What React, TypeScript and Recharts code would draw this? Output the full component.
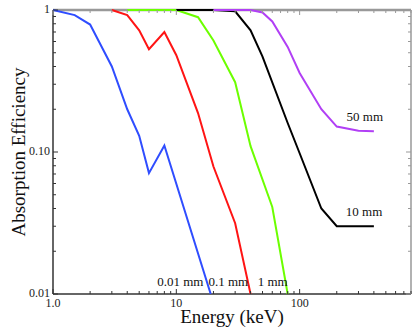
import React from 'react';
import { LineChart, Line, XAxis, YAxis, ReferenceDot } from 'recharts';

// energies (keV) and absorption efficiency for each thickness
const e001 = [1, 1.5, 2, 3, 4, 5, 6, 8, 19];
const v001 = [1, 0.92, 0.79, 0.4, 0.2, 0.13, 0.071, 0.111, 0.01];
const e01 = [3, 4, 5, 6, 8, 10, 15, 20, 30, 40];
const v01 = [1, 0.92, 0.72, 0.53, 0.7, 0.48, 0.188, 0.079, 0.0315, 0.01];
const e1 = [4, 10, 15, 20, 30, 40, 60, 80];
const v1 = [1, 1, 0.89, 0.61, 0.31, 0.11, 0.041, 0.01];
const e10 = [10, 20, 30, 40, 50, 80, 100, 150, 200, 400];
const v10 = [1, 1, 0.98, 0.72, 0.47, 0.16, 0.098, 0.04, 0.03, 0.03];
const e50 = [20, 40, 50, 60, 80, 100, 150, 200, 300, 400];
const v50 = [1, 1, 0.96, 0.83, 0.55, 0.36, 0.2, 0.151, 0.141, 0.14];

const xTicks = [1, 2, 3, 4, 5, 6, 7, 8, 9, 10, 20, 30, 40, 50, 60, 70, 80, 90, 100, 200, 300, 400, 500, 600, 700, 800];
const xTickText: Record<string, string> = { '1': '1.0', '10': '10', '100': '100' };
const yTicks = [0.01, 0.02, 0.03, 0.04, 0.05, 0.06, 0.07, 0.08, 0.09, 0.1, 0.2, 0.3, 0.4, 0.5, 0.6, 0.7, 0.8, 0.9, 1];
const yTickText: Record<string, string> = { '0.01': '0.01', '0.1': '0.10', '1': '1' };

const curveLabels = [
  { text: '0.01 mm', e: 7, v: 0.0114 },
  { text: '0.1 mm', e: 18.2, v: 0.0114 },
  { text: '1 mm', e: 45.7, v: 0.0114 },
  { text: '50 mm', e: 240, v: 0.1665 },
  { text: '10 mm', e: 237, v: 0.0354 },
];

const serif = 'Liberation Serif, Times New Roman, serif';

const toPoints = (es: number[], vs: number[]) => es.map((e, i) => ({ e, v: vs[i] }));

const series = [
  { name: '0.01 mm', data: toPoints(e001, v001), color: '#2f4dff' },
  { name: '0.1 mm', data: toPoints(e01, v01), color: '#ff1414' },
  { name: '1 mm', data: toPoints(e1, v1), color: '#6cff00' },
  { name: '10 mm', data: toPoints(e10, v10), color: '#000000' },
  { name: '50 mm', data: toPoints(e50, v50), color: '#b13ff5' },
];

const BottomTick = ({ x, y, payload }: any) => {
  const label = xTickText[String(payload.value)];
  const len = label ? 5 : 3;
  return (
    <g>
      <line x1={x} x2={x} y1={y} y2={y - len} stroke="#333" />
      {label && (
        <text x={x} y={y + 13} textAnchor="middle" fontSize={12} fontFamily={serif} fill="#222">
          {label}
        </text>
      )}
    </g>
  );
};

const TopTick = ({ x, y, payload }: any) => {
  const len = xTickText[String(payload.value)] ? 5 : 3;
  return <line x1={x} x2={x} y1={y} y2={y + len} stroke="#999" />;
};

const LeftTick = ({ x, y, payload }: any) => {
  const label = yTickText[String(payload.value)];
  const len = label ? 5 : 3;
  return (
    <g>
      <line x1={x} x2={x + len} y1={y} y2={y} stroke="#333" />
      {label && (
        <text x={x - 3} y={y + 3} textAnchor="end" fontSize={12} fontFamily={serif} fill="#222">
          {label}
        </text>
      )}
    </g>
  );
};

const RightTick = ({ x, y, payload }: any) => {
  const len = yTickText[String(payload.value)] ? 5 : 3;
  return <line x1={x} x2={x - len} y1={y} y2={y} stroke="#999" />;
};

const XTitle = ({ viewBox }: any) => (
  <text x={viewBox.x + viewBox.width / 2} y={323} textAnchor="middle" fontSize={19} fontFamily={serif} fill="#111">
    Energy (keV)
  </text>
);

const YTitle = ({ viewBox }: any) => {
  const cx = 18;
  const cy = viewBox.y + viewBox.height / 2;
  return (
    <text x={cx} y={cy} dy="0.35em" transform={`rotate(-90 ${cx} ${cy})`} textAnchor="middle" fontSize={19} fontFamily={serif} fill="#111">
      Absorption Efficiency
    </text>
  );
};

export default function App() {
  return (
    <div style={{ position: 'absolute', left: 0, top: 0 }}>
      <LineChart width={415} height={331} margin={{ top: 9, right: 3, bottom: 0, left: 0 }}>
        <XAxis
          dataKey="e"
          type="number"
          scale="log"
          domain={[1, 800]}
          ticks={xTicks}
          interval={0}
          tickSize={0}
          tickMargin={0}
          tickLine={false}
          tick={<BottomTick />}
          height={37}
          axisLine={{ stroke: '#333', strokeWidth: 1.5 }}
          label={<XTitle />}
        />
        <XAxis
          xAxisId="top"
          orientation="top"
          dataKey="e"
          type="number"
          scale="log"
          domain={[1, 800]}
          allowDataOverflow
          ticks={xTicks}
          interval={0}
          tickSize={0}
          tickMargin={0}
          tickLine={false}
          tick={<TopTick />}
          height={1}
          axisLine={{ stroke: '#999', strokeWidth: 2.5 }}
        />
        <YAxis
          type="number"
          scale="log"
          domain={[0.01, 1]}
          ticks={yTicks}
          interval={0}
          tickSize={0}
          tickMargin={0}
          tickLine={false}
          tick={<LeftTick />}
          width={53}
          axisLine={{ stroke: '#333', strokeWidth: 1.5 }}
          label={<YTitle />}
        />
        <YAxis
          yAxisId="right"
          orientation="right"
          type="number"
          scale="log"
          domain={[0.01, 1]}
          allowDataOverflow
          ticks={yTicks}
          interval={0}
          tickSize={0}
          tickMargin={0}
          tickLine={false}
          tick={<RightTick />}
          width={1}
          axisLine={{ stroke: '#999', strokeWidth: 1.5 }}
        />
        {/* invisible series so the top/right frame axes get drawn */}
        <Line
          data={toPoints(e10, v10)}
          dataKey="v"
          xAxisId="top"
          yAxisId="right"
          stroke="none"
          dot={false}
          isAnimationActive={false}
        />
        {series.map((s) => (
          <Line
            key={s.name}
            data={s.data}
            dataKey="v"
            type="linear"
            stroke={s.color}
            strokeWidth={2}
            dot={false}
            isAnimationActive={false}
            zIndex={600}
          />
        ))}
        {curveLabels.map((l) => (
          <ReferenceDot
            key={l.text}
            x={l.e}
            y={l.v}
            r={0}
            shape={(p: any) => (
              <text x={p.cx} y={p.cy} fontSize={13} fontFamily={serif} fill="#111">
                {l.text}
              </text>
            )}
          />
        ))}
      </LineChart>
    </div>
  );
}
